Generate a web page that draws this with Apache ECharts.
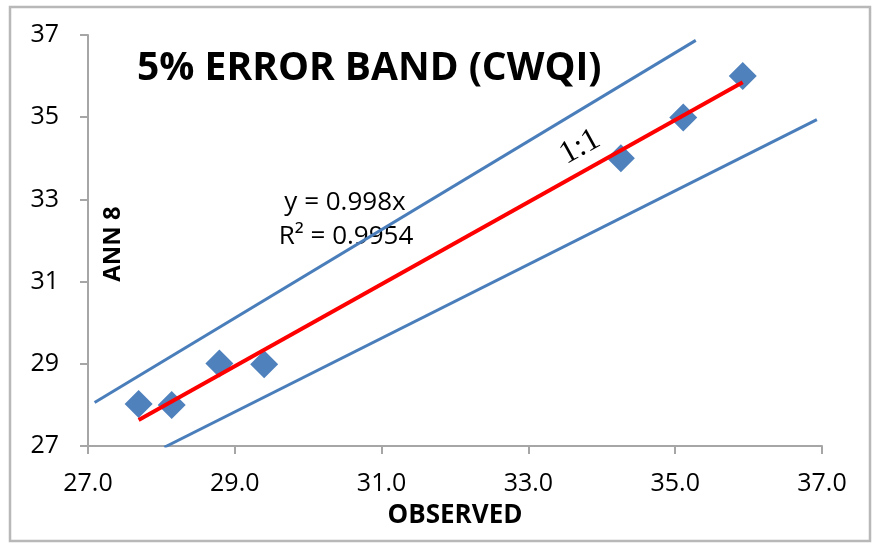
<!DOCTYPE html>
<html>
<head>
<meta charset="utf-8">
<script src="https://cdn.jsdelivr.net/npm/echarts@6/dist/echarts.min.js"></script>
<style>
  html, body { margin: 0; padding: 0; background: #fff; }
  #chart { width: 872px; height: 545px; }
</style>
</head>
<body>
<div id="chart"></div>
<script>
// observed vs ANN 8 predicted CWQI
const observed = [27.69, 28.14, 28.79, 29.40, 34.26, 35.11, 35.92]
const predicted = [28.02, 28.0, 29.01, 28.99, 34.0, 34.99, 36.0]
// line endpoints
const fitLine = [[27.69, 27.63], [35.92, 35.85]]
const upperBand = [[27.09, 28.06], [35.28, 36.87]]
const lowerBand = [[28.04, 26.97], [36.93, 34.94]]
const axisTicks = [27, 29, 31, 33, 35, 37]

const font = '"Open Sans", "Liberation Sans", sans-serif'
const blue = '#4a7ebb'
const axisGray = '#a6a6a6'

var myChart = echarts.init(document.getElementById('chart'))
myChart.setOption({
    animation: false,
    backgroundColor: '#fff',
    grid: {
        left: 88,
        right: 50,
        top: 35,
        bottom: 99
    },
    xAxis: {
        type: 'value',
        min: axisTicks[0],
        max: axisTicks[axisTicks.length - 1],
        interval: 2,
        name: 'OBSERVED',
        nameLocation: 'middle',
        nameGap: 57,
        nameTextStyle: { fontFamily: font, fontWeight: 'bold', fontSize: 26, color: '#000' },
        splitLine: { show: false },
        axisLine: { lineStyle: { color: axisGray, width: 2 } },
        axisTick: { length: 8, lineStyle: { color: axisGray, width: 2 } },
        axisLabel: {
            margin: 25,
            fontFamily: font, fontSize: 25, color: '#000',
            formatter: (v) => v.toFixed(1)
        }
    },
    yAxis: {
        type: 'value',
        min: axisTicks[0],
        max: axisTicks[axisTicks.length - 1],
        interval: 2,
        splitLine: { show: false },
        axisLine: { show: true, lineStyle: { color: axisGray, width: 2 } },
        axisTick: { show: true, length: 8, lineStyle: { color: axisGray, width: 2 } },
        axisLabel: { margin: 29, fontFamily: font, fontSize: 25, color: '#000' }
    },
    graphic: [
        {
            type: 'rect',
            shape: { x: 10, y: 7, width: 860, height: 534 },
            style: { fill: 'none', stroke: '#b8b8b8', lineWidth: 2.5 },
            z: -1
        },
        {
            type: 'text', x: 137, y: 69,
            style: { text: '5% ERROR BAND (CWQI)', font: 'bold 39px ' + font, fill: '#000', textVerticalAlign: 'middle' }
        },
        {
            type: 'text', x: 345, y: 203,
            style: { text: 'y = 0.998x', font: '26px ' + font, fill: '#000', textAlign: 'center', textVerticalAlign: 'middle' }
        },
        {
            type: 'text', x: 346, y: 237,
            style: { text: 'R² = 0.9954', font: '26px ' + font, fill: '#000', textAlign: 'center', textVerticalAlign: 'middle' }
        },
        {
            type: 'text', x: 113, y: 244, rotation: Math.PI / 2,
            style: { text: 'ANN 8', font: 'bold 24px ' + font, fill: '#000', textAlign: 'center', textVerticalAlign: 'middle' }
        },
        {
            type: 'text', x: 580, y: 147, rotation: 29 * Math.PI / 180,
            style: { text: '1:1', font: '32px "Liberation Serif", "DejaVu Serif", serif', fill: '#000', textAlign: 'center', textVerticalAlign: 'middle' }
        }
    ],
    series: [
        {
            type: 'line',
            data: upperBand,
            symbol: 'none',
            lineStyle: { color: blue, width: 3 },
            z: 2
        },
        {
            type: 'line',
            data: lowerBand,
            symbol: 'none',
            lineStyle: { color: blue, width: 3 },
            z: 2
        },
        {
            type: 'scatter',
            data: observed.map((x, i) => [x, predicted[i]]),
            symbol: 'diamond',
            symbolSize: 28,
            itemStyle: { color: '#4f81bd', opacity: 1 },
            z: 3
        },
        {
            type: 'line',
            data: fitLine,
            symbol: 'none',
            lineStyle: { color: '#ff0000', width: 4 },
            z: 4
        }
    ]
})
</script>
</body>
</html>
